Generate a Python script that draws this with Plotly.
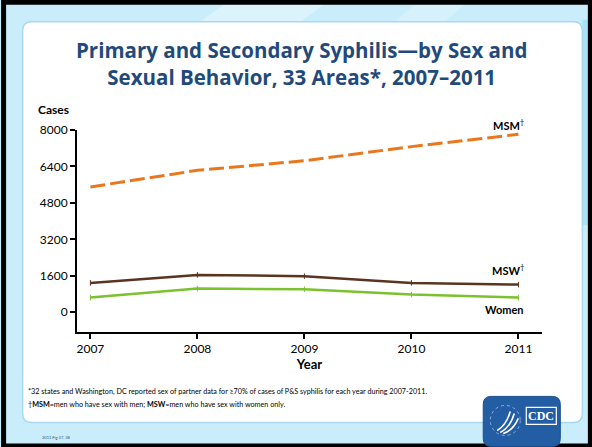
import plotly.graph_objects as go

# Primary & secondary syphilis cases by sex and sexual behavior, 33 areas
years = [2007, 2008, 2009, 2010, 2011]
msm = [5500, 6230, 6650, 7270, 7810]
msw = [1290, 1640, 1585, 1290, 1215]
women = [645, 1040, 1010, 775, 645]

y_ticks = [0, 1600, 3200, 4800, 6400, 8000]
x_ticks = years

W, H = 592, 447
L, R, T, B = 77.3, 50.3, 130.0, 115.3
PW, PH = W - L - R, H - T - B


def px(x):
    return (x - L) / PW


def py(y):
    return 1 - (y - T) / PH


def rounded_path(x0, y0, x1, y1, r):
    # rectangle with rounded corners, given in page pixels
    pts = [
        f"M {px(x0 + r)} {py(y0)}",
        f"L {px(x1 - r)} {py(y0)}",
        f"Q {px(x1)} {py(y0)} {px(x1)} {py(y0 + r)}",
        f"L {px(x1)} {py(y1 - r)}",
        f"Q {px(x1)} {py(y1)} {px(x1 - r)} {py(y1)}",
        f"L {px(x0 + r)} {py(y1)}",
        f"Q {px(x0)} {py(y1)} {px(x0)} {py(y1 - r)}",
        f"L {px(x0)} {py(y0 + r)}",
        f"Q {px(x0)} {py(y0)} {px(x0 + r)} {py(y0)}",
        "Z",
    ]
    return " ".join(pts)


def poly(points):
    return "M " + " L ".join(f"{px(a)} {py(b)}" for a, b in points) + " Z"


def page_text(text, x, y, size, color="black", xanchor="center", family=None):
    return dict(text=text, x=px(x), y=py(y), xref="paper", yref="paper",
                xanchor=xanchor, yanchor="middle", showarrow=False,
                font=dict(family=family or FONT, size=size, color=color))


FONT = "Lato, 'Open Sans', sans-serif"
TITLE_FONT = "'Open Sans', Lato, sans-serif"
TITLE_COLOR = "#1F4A7C"

fig = go.Figure()

fig.add_trace(go.Scatter(
    x=years, y=msm, mode="lines", name="MSM",
    line=dict(color="#E8771E", width=3, dash="15px,5px"),
))
fig.add_trace(go.Scatter(
    x=years, y=msw, mode="lines+markers", name="MSW",
    line=dict(color="#5A3420", width=2.5),
    marker=dict(symbol="line-ns", size=4, color="#5A3420",
                line=dict(color="#5A3420", width=1)),
))
fig.add_trace(go.Scatter(
    x=years, y=women, mode="lines+markers", name="Women",
    line=dict(color="#7CC12E", width=2.5),
    marker=dict(symbol="line-ns", size=4, color="#7CC12E",
                line=dict(color="#7CC12E", width=1)),
))

shapes = [
    # slide background streaks
    dict(type="path", xref="paper", yref="paper", layer="below",
         path=poly([(230, 0), (330, 0), (250, 60), (150, 60)]),
         fillcolor="rgba(255,255,255,0.35)", line=dict(width=0)),
    dict(type="path", xref="paper", yref="paper", layer="below",
         path=poly([(420, 0), (470, 0), (400, 60), (350, 60)]),
         fillcolor="rgba(255,255,255,0.25)", line=dict(width=0)),
    dict(type="rect", xref="paper", yref="paper", layer="below",
         x0=px(582), x1=px(592), y0=py(20), y1=py(225),
         fillcolor="#A6E2F8", line=dict(width=0)),
    # white content panel
    dict(type="path", xref="paper", yref="paper", layer="below",
         path=rounded_path(23, 22, 582, 422, 9),
         fillcolor="white", line=dict(color="#A9D9EF", width=1.5)),
    # outer frame
    dict(type="rect", xref="paper", yref="paper", layer="above",
         x0=px(4), x1=px(590), y0=py(2.5), y1=py(445.5),
         fillcolor="rgba(0,0,0,0)", line=dict(color="black", width=5)),
    # CDC logo block
    dict(type="path", xref="paper", yref="paper", layer="above",
         path=rounded_path(483, 396, 560, 446, 8),
         fillcolor="#235EA5", line=dict(color="#1D4F8C", width=1)),
    dict(type="circle", xref="paper", yref="paper", layer="above",
         x0=px(490), x1=px(520), y0=py(405), y1=py(435),
         fillcolor="rgba(0,0,0,0)",
         line=dict(color="rgba(255,255,255,0.6)", width=0.8, dash="dot")),
    dict(type="path", xref="paper", yref="paper", layer="above",
         path=(f"M {px(497)} {py(430)} Q {px(506)} {py(425)} {px(510)} {py(411)} "
               f"M {px(500)} {py(432)} Q {px(510)} {py(427)} {px(514)} {py(413)} "
               f"M {px(503)} {py(433)} Q {px(513)} {py(430)} {px(518)} {py(418)}"),
         line=dict(color="white", width=1.6)),
    dict(type="rect", xref="paper", yref="paper", layer="above",
         x0=px(526), x1=px(556), y0=py(407), y1=py(424),
         fillcolor="rgba(0,0,0,0)", line=dict(color="white", width=1.2)),
]

annotations = [
    page_text("<b>Primary and Secondary Syphilis—by Sex and</b><br>"
              "<b>Sexual Behavior, 33 Areas*, 2007–2011</b>",
              302, 63.5, 20.5, TITLE_COLOR, family=TITLE_FONT),
    page_text("<b>Cases</b>", 36, 110, 12, xanchor="left"),
    dict(text="<b>MSM</b><sup>†</sup>", x=2011, y=msm[-1], xref="x", yref="y",
         xanchor="right", yanchor="bottom", xshift=8, yshift=0, showarrow=False,
         font=dict(family=FONT, size=11, color="black")),
    dict(text="<b>MSW</b><sup>†</sup>", x=2011, y=msw[-1], xref="x", yref="y",
         xanchor="right", yanchor="bottom", xshift=8, yshift=6, showarrow=False,
         font=dict(family=FONT, size=11, color="black")),
    dict(text="<b>Women</b>", x=2011, y=women[-1], xref="x", yref="y",
         xanchor="right", yanchor="top", xshift=8, yshift=-3, showarrow=False,
         font=dict(family=FONT, size=11, color="black")),
    page_text("*32 states and Washington, DC reported sex of partner data for ≥70% of cases "
              "of P&S syphilis for each year during 2007-2011.", 26, 391, 7.2, xanchor="left"),
    page_text("†<b>MSM</b>=men who have sex with men; <b>MSW</b>=men who have sex "
              "with women only.", 26, 404, 7.2, xanchor="left"),
    page_text("2011 Fig 37. 38", 40, 437, 4, "#2A5080", xanchor="left"),
    page_text("<b>CDC</b>", 541, 415.5, 12, "white", family="'Liberation Serif', serif"),
]

fig.update_layout(
    width=W, height=H, autosize=False,
    margin=dict(l=L, r=R, t=T, b=B, pad=0),
    paper_bgcolor="#C9EDFB",
    plot_bgcolor="rgba(0,0,0,0)",
    showlegend=False,
    shapes=shapes,
    annotations=annotations,
    font=dict(family=FONT, color="black"),
)

fig.update_xaxes(
    range=[2006.875, 2011.22], tickvals=x_ticks, ticktext=[str(v) for v in x_ticks],
    showgrid=False, zeroline=False, showline=True, linecolor="black", linewidth=2,
    ticks="outside", ticklen=5, tickwidth=2, tickcolor="black",
    tickfont=dict(family=FONT, size=12, color="black"),
    title=dict(text="<b>Year</b>", font=dict(family=FONT, size=13, color="black"),
               standoff=4),
)
fig.update_yaxes(
    range=[-866, 8000], tickvals=y_ticks, ticktext=[str(v) for v in y_ticks],
    showgrid=False, zeroline=False, showline=True, linecolor="black", linewidth=2,
    ticks="outside", ticklen=5, tickwidth=1.5, tickcolor="black",
    tickfont=dict(family=FONT, size=12, color="black"),
)

fig.write_html("out.html")
